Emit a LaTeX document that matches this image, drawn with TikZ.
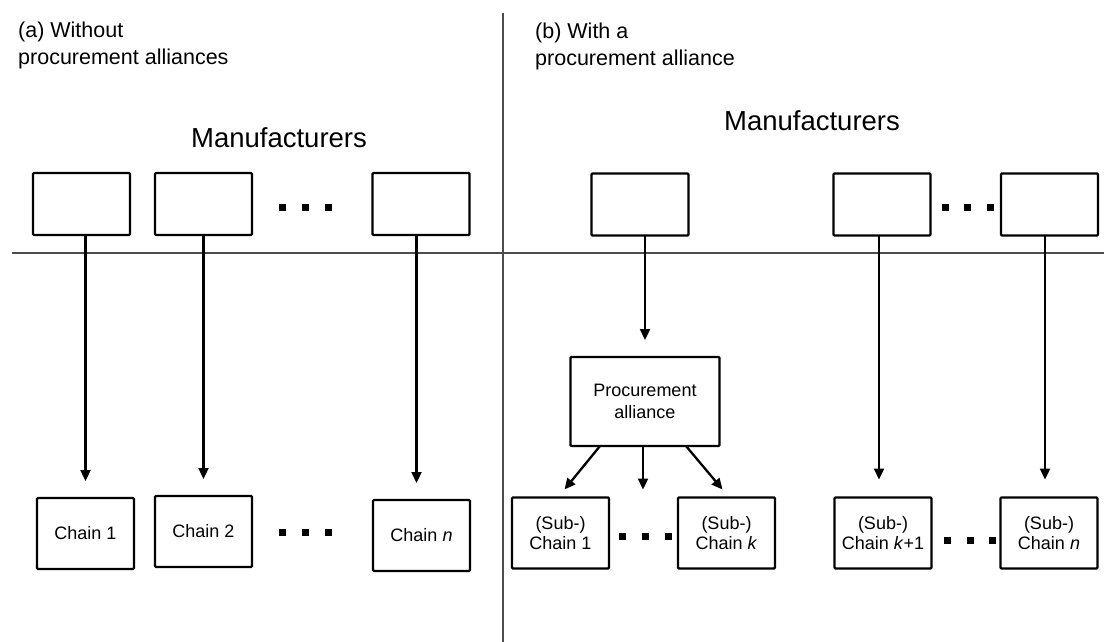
\documentclass[tikz,border=0pt]{standalone}
\usepackage{fontspec}
\setmainfont{Liberation Sans}
\usetikzlibrary{arrows.meta}
\begin{document}
\begin{tikzpicture}[x=1pt,y=-1pt,
  box/.style={draw, line width=2.3pt, rounded corners=1pt, minimum width=97pt,
              inner sep=0pt, outer sep=0pt},
  mbox/.style={box, minimum height=62pt},
  cbox/.style={box, minimum height=71pt, align=center,
               font=\fontsize{18}{20}\selectfont},
  pabox/.style={box, minimum width=149pt, minimum height=89pt, align=center,
                font=\fontsize{18}{22}\selectfont},
  divider/.style={line width=1.5pt, black!70},
  arr/.style={line width=2.3pt, -{Triangle[length=11pt,width=10pt]}},
  caption/.style={font=\fontsize{21.5}{27}\selectfont, align=left, anchor=base west,
                  inner sep=0pt},
  heading/.style={font=\fontsize{27.5}{32}\selectfont, anchor=base, inner sep=0pt},
  dotsq/.style={fill=black}
]
\useasboundingbox (0,0) rectangle (1104,642);

% dividers between the two panels and between the two levels
\coordinate (vtop) at (503,13);
\coordinate (vbot) at (503,642);
\coordinate (hl) at (12,253);
\coordinate (hr) at (1104,253);
\draw[divider] (vtop) -- (vbot);
\draw[divider] (hl) -- (hr);

% panel captions (anchored at the baseline of their last line)
\node[caption] (capa) at (18,65) {(a) Without\\procurement alliances};
\node[caption] (capb) at (535,66) {(b) With a\\procurement alliance};
\node[heading] (mfa) at (279,147) {Manufacturers};
\node[heading] (mfb) at (812,131) {Manufacturers};

% ---- panel (a) ----
\node[mbox] (ma1) at (81.5,204) {};
\node[mbox] (ma2) at (203.5,204) {};
\node[mbox] (man) at (421,204) {};

\node[cbox] (ca1) at (85.5,533.5) {Chain 1};
\node[cbox] (ca2) at (203.5,531.5) {Chain 2};
\node[cbox] (can) at (421.5,535.5) {Chain \textit{n}};

\draw[arr, shorten >=17pt] (ca1.north |- ma1.south) -- (ca1.north);
\draw[arr, shorten >=17pt] (ca2.north |- ma2.south) -- (ca2.north);
\draw[arr, shorten >=17pt] ([xshift=-5pt]can.north |- man.south) -- ([xshift=-5pt]can.north);

\foreach \x in {282,305,328} {
  \fill[dotsq] (\x-3.5,203.5) rectangle (\x+3.5,210.5);
  \fill[dotsq] (\x-3.5,528.5) rectangle (\x+3.5,535.5);
}

% ---- panel (b) ----
\node[mbox] (mb1) at (640,204.5) {};
\node[mbox] (mbk) at (882,204.5) {};
\node[mbox] (mbn) at (1049.5,204.5) {};

\node[pabox] (pa) at (645,401.5) {Procurement\\alliance};

\node[cbox] (s1) at (560.5,533) {(Sub-)\\Chain 1};
\node[cbox] (sk) at (726.5,533) {(Sub-)\\Chain \textit{k}};
\node[cbox] (sk1) at (883,533) {(Sub-)\\Chain \textit{k}+1};
\node[cbox] (sn) at (1049,533) {(Sub-)\\Chain \textit{n}};

\draw[arr, shorten >=17pt] (pa.north |- mb1.south) -- (pa.north);
\draw[arr] ([xshift=-45pt]pa.south) -- ([xshift=4pt,yshift=8pt]s1.north);
\draw[arr] ([xshift=-2pt]pa.south) -- ([xshift=-2pt,yshift=8pt]pa.south |- s1.north);
\draw[arr] ([xshift=41pt]pa.south) -- ([xshift=-4pt,yshift=8pt]sk.north);
\draw[arr, shorten >=18pt] ([xshift=-4pt]sk1.north |- mbk.south) -- ([xshift=-4pt]sk1.north);
\draw[arr, shorten >=18pt] ([xshift=-4pt]sn.north |- mbn.south) -- ([xshift=-4pt]sn.north);

\foreach \x in {945,967,990}
  \fill[dotsq] (\x-3.5,203.5) rectangle (\x+3.5,210.5);
\foreach \x in {622,645,668}
  \fill[dotsq] (\x-3.5,532.5) rectangle (\x+3.5,539.5);
\foreach \x in {947,970,992}
  \fill[dotsq] (\x-3.5,536.5) rectangle (\x+3.5,543.5);
\end{tikzpicture}
\end{document}
